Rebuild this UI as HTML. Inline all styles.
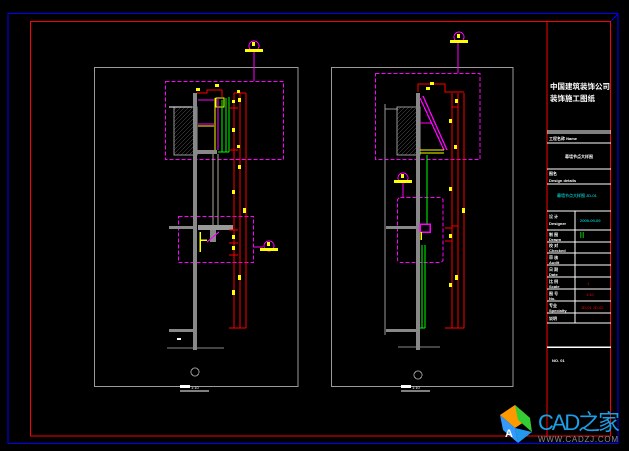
<!DOCTYPE html>
<html><head><meta charset="utf-8"><style>
html,body{margin:0;padding:0;background:#000;width:629px;height:451px;overflow:hidden}
svg{display:block}
text{font-family:"Liberation Sans","Noto Sans CJK SC",sans-serif}
</style></head><body>
<svg width="629" height="451" viewBox="0 0 629 451" xmlns="http://www.w3.org/2000/svg" shape-rendering="crispEdges">
<rect width="629" height="451" fill="#000"/>
<!-- frames -->
<rect x="8" y="13.5" width="610" height="430" fill="none" stroke="#0000ff" stroke-width="1.2"/>
<rect x="30.5" y="21.5" width="580" height="414.5" fill="none" stroke="#ff0000" stroke-width="1.2"/>
<line x1="547" y1="21" x2="547" y2="436" stroke="#ff0000" stroke-width="1.2"/>
<line x1="611" y1="21" x2="618" y2="14" stroke="#0000ff"/>
<!-- title block -->
<g stroke="#fff" stroke-width="1">
<line x1="547" y1="131" x2="611" y2="131"/><line x1="547" y1="133" x2="611" y2="133"/>
<line x1="547" y1="143" x2="611" y2="143"/><line x1="547" y1="169" x2="611" y2="169"/>
<line x1="547" y1="184" x2="611" y2="184"/><line x1="547" y1="211" x2="611" y2="211"/>
<line x1="547" y1="230" x2="611" y2="230"/><line x1="547" y1="242" x2="611" y2="242"/>
<line x1="547" y1="253" x2="611" y2="253"/><line x1="547" y1="265" x2="611" y2="265"/>
<line x1="547" y1="277" x2="611" y2="277"/><line x1="547" y1="289" x2="611" y2="289"/>
<line x1="547" y1="301" x2="611" y2="301"/><line x1="547" y1="313" x2="611" y2="313"/>
<line x1="547" y1="323" x2="611" y2="323"/>
<line x1="547" y1="347" x2="611" y2="347" stroke-width="1.5"/>
<line x1="575" y1="211" x2="575" y2="323"/>
</g>
<g fill="#fff" font-size="6" font-weight="bold">
<text x="550" y="89" font-size="7.5">中国建筑装饰公司</text>
<text x="550" y="101" font-size="7.5">装饰施工图纸</text>
<text x="549" y="140" font-size="4">工程名称 Name</text>
<text x="565" y="158" font-size="4">幕墙节点大样图</text>
<text x="549" y="175" font-size="4">图名</text>
<text x="549" y="182" font-size="4">Design details</text>
<text x="549" y="218" font-size="4">设 计</text><text x="549" y="225" font-size="4">Designer</text>
<text x="549" y="236" font-size="4">制 图</text><text x="549" y="241" font-size="4">Drawn</text>
<text x="549" y="247" font-size="4">校 对</text><text x="549" y="252" font-size="4">Checked</text>
<text x="549" y="259" font-size="4">审 核</text><text x="549" y="264" font-size="4">Audit</text>
<text x="549" y="271" font-size="4">日 期</text><text x="549" y="276" font-size="4">Date</text>
<text x="549" y="283" font-size="4">比 例</text><text x="549" y="288" font-size="4">Scale</text>
<text x="549" y="295" font-size="4">图 号</text><text x="549" y="300" font-size="4">No.</text>
<text x="549" y="307" font-size="4">专业</text><text x="549" y="312" font-size="4">Specialty</text>
<text x="549" y="320" font-size="4">说明</text>
<text x="552" y="362" font-size="4">NO. 01</text>
</g>
<text x="557" y="197" font-size="4" fill="#00ffff">幕墙节点大样图 JD-01</text>
<text x="580" y="222" font-size="4" fill="#00ffff">2009-09-09</text>
<text x="578" y="238" font-size="8" fill="#00ff00">Ⅱ</text>
<text x="587" y="285" font-size="4" fill="#ff0000">1</text>
<text x="586" y="296" font-size="4" fill="#ff0000">1:10</text>
<text x="581" y="309" font-size="4" fill="#ff0000">JD-01 JD-02</text>

<!-- panels -->
<rect x="94.5" y="67.5" width="203.5" height="319" fill="none" stroke="#9a9a9a"/>
<rect x="331.5" y="67.5" width="181.5" height="319" fill="none" stroke="#9a9a9a"/>
<rect x="180" y="385" width="10" height="3" fill="#fff"/><text x="191" y="389" font-size="4" fill="#fff">1:10</text>
<line x1="180" y1="391" x2="209" y2="391" stroke="#fff"/>
<rect x="401" y="385" width="10" height="3" fill="#fff"/><text x="412" y="389" font-size="4" fill="#fff">1:10</text>
<line x1="401" y1="391" x2="430" y2="391" stroke="#fff"/>

<defs><pattern id="h" width="4" height="4" patternUnits="userSpaceOnUse"><path d="M0 4L4 0" stroke="#888" stroke-width=".7"/></pattern></defs>
<!-- LEFT DRAWING -->
<g>
<rect x="165.5" y="81.5" width="118" height="78" fill="none" stroke="#ff00ff" stroke-dasharray="4,2"/>
<rect x="178.5" y="216.5" width="75" height="46" fill="none" stroke="#ff00ff" stroke-dasharray="4,2"/>
<rect x="174" y="107" width="23" height="48" fill="url(#h)" stroke="#999"/>
<line x1="169" y1="107" x2="192" y2="107" stroke="#fff"/>
<rect x="193" y="93" width="4" height="257" fill="#888"/>
<rect x="197" y="150" width="20" height="4" fill="#888"/>
<line x1="213" y1="154" x2="213" y2="225" stroke="#aa9"/><line x1="218" y1="154" x2="218" y2="225" stroke="#aa9"/>
<rect x="169" y="226" width="28" height="3" fill="#888"/>
<rect x="169" y="329" width="28" height="3" fill="#888"/>
<line x1="167" y1="348" x2="224" y2="348" stroke="#888"/>
<rect x="198" y="225" width="35" height="5" fill="#999"/>
<rect x="210" y="230" width="6" height="12" fill="#888"/>
<path d="M200 232V252M200 240H207" stroke="#ff0" stroke-width="1.5" fill="none"/>
<path d="M207 242L219 232" stroke="#f0f" stroke-width="1.2"/>
<path d="M197 93H207V90H222V97" stroke="#f00" fill="none"/>
<rect x="216" y="98" width="8" height="9" fill="none" stroke="#ff0"/>
<line x1="215" y1="98" x2="215" y2="150" stroke="#ff0" stroke-width="1"/>
<line x1="218" y1="98" x2="218" y2="150" stroke="#f0f"/>
<line x1="198" y1="100" x2="214" y2="100" stroke="#f0f"/><line x1="198" y1="124" x2="214" y2="124" stroke="#f0f"/>
<line x1="198" y1="126" x2="214" y2="126" stroke="#ff0"/>
<path d="M222 100V152M226 98V152M229 97V152M218 152H229" stroke="#00ff00" fill="none"/>
<path d="M234 93V328M240 92V328M246 93V328M229 328H246M234 93H246" stroke="#f00" fill="none"/>
<path d="M229 108H238M229 150H238M229 230H238M229 243H238M229 255H238" stroke="#f00"/>
<g fill="#ff0"><rect x="215" y="84" width="4" height="3"/><rect x="237" y="90" width="3" height="3"/><rect x="232" y="100" width="3" height="3"/><rect x="238" y="98" width="3" height="4"/><rect x="232" y="128" width="3" height="4"/><rect x="237" y="145" width="3" height="3"/><rect x="238" y="165" width="3" height="4"/><rect x="232" y="190" width="3" height="4"/><rect x="243" y="208" width="3" height="5"/><rect x="232" y="235" width="3" height="4"/><rect x="232" y="246" width="3" height="4"/><rect x="238" y="275" width="3" height="5"/><rect x="232" y="290" width="3" height="5"/><rect x="196" y="88" width="4" height="3"/></g>
<circle cx="254" cy="46" r="5" fill="none" stroke="#f0f"/><rect x="245" y="49" width="18" height="3" fill="#ff0"/><rect x="252" y="42" width="3" height="4" fill="#ff0"/>
<line x1="254" y1="52" x2="254" y2="81" stroke="#f0f"/>
<circle cx="269" cy="246" r="5" fill="none" stroke="#f0f"/><rect x="260" y="248" width="18" height="3" fill="#ff0"/><rect x="267" y="242" width="3" height="4" fill="#ff0"/>
<line x1="253" y1="247" x2="263" y2="247" stroke="#f0f"/>
<circle cx="195" cy="372" r="4" fill="none" stroke="#999"/>
<rect x="177" y="338" width="4" height="2" fill="#fff"/>
</g>

<!-- RIGHT DRAWING -->
<g>
<rect x="375.5" y="73.5" width="104.5" height="86" fill="none" stroke="#ff00ff" stroke-dasharray="4,2"/>
<rect x="397.5" y="197.5" width="45.5" height="65" fill="none" stroke="#ff00ff" stroke-dasharray="4,2" rx="3"/>
<rect x="397" y="107" width="23" height="48" fill="url(#h)" stroke="#999"/>
<rect x="416" y="93" width="4" height="257" fill="#888"/>
<line x1="385" y1="104" x2="385" y2="335" stroke="#999"/>
<line x1="385" y1="109" x2="398" y2="109" stroke="#999"/>
<rect x="386" y="226" width="31" height="3" fill="#888"/>
<rect x="386" y="329" width="31" height="3" fill="#888"/>
<line x1="398" y1="347" x2="440" y2="347" stroke="#888"/>
<path d="M420 98L444 150M423 96L447 150" stroke="#f0f" stroke-width="1.3"/>
<path d="M420 150H444M420 153H444" stroke="#ff0"/>
<line x1="420" y1="123" x2="432" y2="123" stroke="#f0f"/>
<path d="M418 92V84H445V92H464" stroke="#f00" fill="none"/>
<path d="M452 93V328M458 93V328M464 93V328M445 328H464" stroke="#f00" fill="none"/>
<path d="M452 107H458M452 226H458M445 228H452M445 241H452" stroke="#f00"/>
<line x1="427" y1="155" x2="427" y2="225" stroke="#00ff00"/>
<path d="M422 245V328M425 245V328M420 328H425" stroke="#00ff00" fill="none"/>
<rect x="420" y="224" width="10" height="8" fill="none" stroke="#f0f" stroke-width="1.5"/>
<path d="M421 232V240" stroke="#ff0" stroke-width="1.5"/>
<g fill="#ff0"><rect x="430" y="82" width="4" height="3"/><rect x="426" y="87" width="4" height="3"/><rect x="455" y="99" width="3" height="4"/><rect x="449" y="119" width="3" height="4"/><rect x="454" y="145" width="3" height="4"/><rect x="449" y="187" width="3" height="4"/><rect x="462" y="208" width="3" height="5"/><rect x="449" y="234" width="3" height="4"/><rect x="455" y="275" width="3" height="5"/><rect x="449" y="283" width="3" height="4"/></g>
<circle cx="459" cy="37" r="5" fill="none" stroke="#f0f"/><rect x="450" y="40" width="18" height="3" fill="#ff0"/><rect x="457" y="34" width="3" height="4" fill="#ff0"/>
<line x1="458" y1="43" x2="458" y2="73" stroke="#f0f"/>
<circle cx="403" cy="178" r="5" fill="none" stroke="#f0f"/><rect x="394" y="180" width="18" height="3" fill="#ff0"/><rect x="401" y="174" width="3" height="4" fill="#ff0"/>
<line x1="403" y1="184" x2="403" y2="197" stroke="#f0f"/>
<circle cx="418" cy="375" r="4" fill="none" stroke="#999"/>
</g>

<!-- watermark -->
<g shape-rendering="auto">
<polygon points="500,415 515,405 530,418 515,428" fill="#f90"/>
<polygon points="515,405 530,418 532,432 518,420" fill="#3c3"/>
<polygon points="500,415 515,428 518,443 503,430" fill="#39f"/>
<polygon points="515,428 532,432 518,443" fill="#29e"/>
<text x="505" y="437" font-size="11" fill="#fff" font-weight="bold">A</text>
<text x="538" y="430" font-size="22" fill="#1aa0e8" textLength="82">CAD之家</text>
<text x="538" y="442" font-size="8" fill="#888" textLength="80">WWW.CADZJ.COM</text>
</g>
</svg>
</body></html>
